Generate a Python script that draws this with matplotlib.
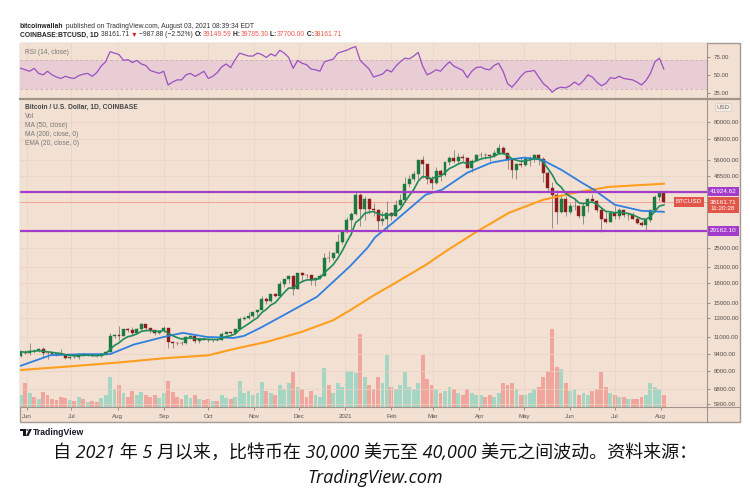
import numpy as np
import pandas as pd
import matplotlib
matplotlib.use("Agg")
import matplotlib.pyplot as plt
import matplotlib.transforms as mtransforms
from matplotlib.patches import Rectangle, Polygon, Circle
from matplotlib.lines import Line2D
from matplotlib.ticker import NullLocator

# ---- values: one candle per 3 days, USD ----
start = "2020-05-28"
first_open = 9200
close = [9580, 9450, 9670, 9660, 9780, 9470, 9430, 9390, 9300, 9290, 9010, 9140,
         9090, 9350, 9240, 9300, 9200, 9160, 9390, 9540, 11050, 11110,
         11100, 11750, 11680, 11400, 11770, 12300, 11860, 11650, 11320, 11540,
         11920, 10500, 10370, 10350, 10330, 10950, 11080, 10520, 10740, 10700,
         10620, 10680, 10670, 11300, 11430, 11320, 11760, 12990, 13030, 13270, 13800,
         14030, 15590, 15330, 16300, 15980, 17800, 18690, 19170, 17140, 19700,
         19450, 19380, 18550, 18810, 19270, 22800, 22720, 23730, 26270, 28850,
         32130, 34000, 40580, 35550, 39150, 35800, 35470, 32080, 32500, 34270,
         33530, 36930, 38870, 44800, 47170, 49150, 55900, 54090, 47030, 45240,
         50530, 48900, 54900, 57330, 55600, 57650, 57320, 52310, 55870, 58900,
         59020, 58880, 58070, 60170, 62980, 60060, 56240, 51160, 54000, 53800,
         56630, 57350, 58900, 56700, 49750, 43500, 40600, 34700, 39300, 34600,
         36700, 36850, 33580, 36700, 39100, 38350, 35500, 32500, 31600, 34500,
         33570, 35290, 33800, 33800, 32700, 31400, 30830, 32150, 35400, 40000, 41460,
         38161.71]
high = [9600, 9750, 10380, 9850, 9880, 9950, 9550, 9550, 9450, 9780, 9320, 9230,
        9300, 9370, 9470, 9330, 9330, 9200, 9420, 9650, 11400, 11250,
        12100, 11800, 11900, 12050, 11850, 12450, 12400, 11900, 11700, 11600,
        12080, 11950, 10600, 10500, 10550, 11100, 11150, 11100, 10800, 10950,
        10880, 10720, 10800, 11450, 11550, 11500, 11800, 13180, 13350, 13860, 13850,
        14050, 15950, 15900, 16350, 16480, 18400, 18800, 19400, 19500, 19850,
        19920, 19550, 19420, 18900, 19570, 23800, 24300, 23800, 28400, 29000,
        33300, 34800, 41950, 41400, 40100, 39700, 37800, 35600, 34900, 38500,
        34700, 38700, 40900, 48000, 48900, 50600, 56300, 58350, 51700, 48300,
        52650, 51700, 54900, 58000, 61700, 60100, 59500, 57900, 56600, 59400,
        60200, 59800, 58700, 61300, 64850, 63800, 60000, 57000, 54300, 57000,
        58400, 58000, 59500, 59600, 57900, 50600, 45800, 42400, 40800, 40400,
        37900, 39500, 37000, 38000, 39400, 41000, 38800, 36400, 35000, 35000,
        36600, 35900, 35100, 34600, 34600, 33200, 32000, 32850, 35400, 40550, 42300,
        39800]
low = [9100, 9400, 9300, 9450, 9550, 9050, 8900, 9300, 9200, 9250, 8950, 8960,
       9050, 8980, 9200, 9150, 9170, 9080, 9100, 9300, 9500, 10850,
       10650, 11100, 11500, 11150, 11400, 11700, 11650, 11400, 11150, 11250,
       11500, 9900, 9900, 10200, 10200, 10300, 10800, 10350, 10400, 10630,
       10430, 10500, 10520, 10650, 11250, 11200, 11250, 11750, 12800, 12900, 13100,
       13300, 14000, 14800, 15100, 15800, 15950, 17350, 18000, 16200, 17000,
       18200, 18900, 17650, 17600, 18700, 19250, 21800, 22350, 23500, 25900,
       28600, 28000, 33900, 30400, 32400, 34000, 33400, 28850, 30900, 29300,
       32300, 33400, 36600, 38050, 43800, 46200, 47000, 47600, 45000, 43000,
       45100, 46300, 48500, 53500, 54600, 54100, 55500, 52000, 50400, 55700,
       57000, 56500, 55500, 57800, 59800, 59600, 51500, 47500, 47050, 52400,
       52900, 53200, 55300, 53400, 46000, 42200, 30000, 31100, 34500, 33400,
       34100, 35500, 33000, 31000, 34700, 38100, 34800, 28800, 31300, 31600,
       32700, 32700, 33300, 32200, 32600, 31100, 30500, 29300, 31700, 34800, 38300,
       37700]
volume = [19, 38, 22, 16, 13, 24, 19, 13, 11, 16, 14, 11,
          10, 16, 13, 8, 10, 8, 14, 19, 48, 29,
          35, 22, 16, 26, 19, 24, 19, 16, 19, 14,
          22, 42, 24, 16, 13, 19, 14, 19, 13, 11,
          13, 10, 10, 19, 14, 13, 16, 42, 22, 26, 19,
          22, 40, 26, 22, 19, 35, 29, 38, 56, 32,
          29, 16, 26, 19, 16, 62, 35, 22, 38, 32,
          58, 58, 54, 117, 48, 35, 29, 48, 38, 83,
          32, 29, 35, 56, 32, 29, 38, 83, 45, 35,
          29, 22, 26, 32, 29, 22, 19, 29, 22, 19,
          19, 16, 19, 16, 22, 38, 35, 38, 29, 19,
          19, 22, 29, 32, 48, 58, 125, 64, 61, 38,
          26, 29, 19, 22, 19, 26, 29, 56, 32, 22,
          19, 16, 16, 13, 13, 13, 16, 19, 38, 32, 29,
          19]
rsi = [59, 57, 55, 59, 52, 50, 55, 50, 47, 45, 48, 46,
       45, 49, 51, 52, 48, 53, 62, 68, 82, 80,
       78, 70, 71, 67, 70, 65, 63, 56, 54, 52,
       55, 36, 40, 43, 43, 50, 52, 48, 51, 55,
       45, 48, 53, 61, 65, 60, 71, 80, 78, 76, 76,
       80, 78, 74, 79, 76, 84, 80, 74, 59, 70,
       66, 64, 58, 57, 55, 68, 70, 72, 80, 82,
       84, 87, 89, 70, 64, 58, 47, 49, 51, 57,
       54, 62, 68, 73, 72, 76, 81, 62, 50, 53,
       57, 55, 62, 68, 62, 59, 56, 46, 55, 60,
       61, 58, 57, 63, 66, 55, 38, 33, 40, 48,
       54, 55, 56, 47, 38, 33, 26, 31, 33, 32,
       35, 40, 36, 42, 50, 47, 40, 35, 38, 46,
       45, 48, 45, 44, 43, 40, 36, 42, 52, 68, 73,
       58]
ma50_dates = ["2020-05-28", "2020-06-17", "2020-07-09", "2020-07-27", "2020-08-12",
              "2020-09-04", "2020-09-14", "2020-09-30", "2020-10-18", "2020-10-25",
              "2020-11-05", "2020-11-21", "2020-12-13", "2021-01-04", "2021-01-16",
              "2021-01-21", "2021-02-02", "2021-02-24", "2021-03-07", "2021-03-24",
              "2021-04-09", "2021-04-20", "2021-05-01", "2021-05-13", "2021-05-26",
              "2021-06-09", "2021-06-17", "2021-07-01", "2021-07-19", "2021-08-03"]
ma50 = [8400, 9260, 9350, 9350, 10220, 11070, 11380, 10960, 10860, 11070,
        11920, 13440, 15880, 21000, 25000, 27500, 31460, 40730, 42680, 49940,
        54770, 56300, 57370, 56300, 51340, 45520, 42680, 37150, 35120, 34800]
ma200_dates = ["2020-05-28", "2020-07-01", "2020-08-03", "2020-09-01", "2020-10-01",
               "2020-10-18", "2020-11-10", "2020-12-03", "2020-12-24", "2021-01-04",
               "2021-01-21", "2021-02-04", "2021-02-24", "2021-03-11", "2021-03-30",
               "2021-04-21", "2021-05-14", "2021-06-05", "2021-06-27", "2021-08-03"]
ma200 = [8080, 8360, 8670, 9000, 9250, 9800, 10500, 11500, 12800, 14000,
         16200, 18100, 21300, 24500, 28900, 34500, 38900, 41600, 43800, 45100]
resist = 41924.62
support = 29162.10
last_price = 38161.71
price_ticks = [5900, 6800, 8000, 9400, 11000, 13000, 15000, 18000, 21000, 25000,
               48500, 56000, 68000, 80000]
rsi_ticks = [25, 50, 75]
month_labels = ["Jun", "Jul", "Aug", "Sep", "Oct", "Nov", "Dec", "2021",
                "Feb", "Mar", "Apr", "May", "Jun", "Jul", "Aug"]

BG = "#f2e1d3"
UP, DOWN, WICK = "#1d7a3f", "#8e1c1c", "#808080"
VUP, VDN = "#a5d5c3", "#f1a69d"
PURPLE, RED = "#a43ccb", "#e0574a"
GRID = "#ead2c2"
FONT = ["Liberation Sans", "DejaVu Sans"]
plt.rcParams["font.family"] = FONT

dates = pd.date_range(start, periods=len(close), freq="3D")
close = np.array(close, float)
opens = np.r_[first_open, close[:-1]]
high = np.maximum(np.array(high, float), np.maximum(opens, close))
low = np.minimum(np.array(low, float), np.minimum(opens, close))
up = close >= opens
ema20 = pd.Series(close).ewm(span=20 / 3).mean()   # 20-day EMA on 3-day bars
months = pd.date_range("2020-06-01", "2021-08-01", freq="MS")
xlim = (pd.Timestamp("2020-05-27 12:00"), pd.Timestamp("2021-09-01"))

fig = plt.figure(figsize=(7.5, 4.97), dpi=100)
fig.patch.set_facecolor("white")


def fx(px):
    return px / 750


def fy(py):
    return 1 - py / 497


fig.patches.append(Rectangle((fx(20), fy(422)), fx(740) - fx(20), fy(43) - fy(422),
                             transform=fig.transFigure, facecolor=BG,
                             edgecolor="#a59a92", lw=1.0, zorder=-5))
for xs, ys, lw in [([fx(707), fx(707)], [fy(43), fy(422)], 0.8),
                   ([fx(20), fx(740)], [fy(407), fy(407)], 0.8),
                   ([fx(20), fx(740)], [fy(99), fy(99)], 1.6)]:
    fig.lines.append(Line2D(xs, ys, transform=fig.transFigure, color="#9e948c", lw=lw, zorder=10))

W = fx(707) - fx(20)
rsi_ax = fig.add_axes([fx(20), fy(98), W, fy(43) - fy(98)])
vol_ax = fig.add_axes([fx(20), fy(407), W, fy(100) - fy(407)])
ax = fig.add_axes([fx(20), fy(407), W, fy(100) - fy(407)])
for a in (rsi_ax, vol_ax, ax):
    for s in a.spines.values():
        s.set_visible(False)
    a.set_xlim(*xlim)
rsi_ax.set_facecolor(BG)
vol_ax.set_facecolor(BG)
ax.set_facecolor("none")

# ---- volume ----
vol = np.array(volume, float)
vol_ax.bar(dates, vol, width=2.6, color=np.where(up, VUP, VDN), lw=0)
vol_ax.set_ylim(0, vol.max() / 0.255)
vol_ax.set_xticks([])
vol_ax.set_yticks([])

# ---- price ----
ax.set_yscale("log")
ax.set_ylim(5740, 97700)
ax.set_xticks(months)
ax.set_xticklabels(month_labels)
ax.set_yticks(price_ticks)
ax.set_yticklabels(["%.2f" % v for v in price_ticks])
ax.yaxis.set_minor_locator(NullLocator())
ax.yaxis.tick_right()
ax.tick_params(axis="both", length=2.5, width=0.6, color="#8a8079",
               labelsize=4.4, labelcolor="#55504c", pad=2.5)
ax.grid(True, color=GRID, lw=0.5)
ax.set_axisbelow(True)

ax.vlines(dates, low, high, color=WICK, lw=0.6, zorder=3)
ax.bar(dates[up], (close - opens)[up], bottom=opens[up], width=2.0,
       color=UP, edgecolor=UP, lw=0.3, zorder=4)
ax.bar(dates[~up], (close - opens)[~up], bottom=opens[~up], width=2.0,
       color=DOWN, edgecolor=DOWN, lw=0.3, zorder=4)
ax.plot(pd.to_datetime(ma200_dates), ma200, color="#ff9d1e", lw=1.5, zorder=5)
ax.plot(pd.to_datetime(ma50_dates), ma50, color="#2f7fe0", lw=1.3, zorder=5)
ax.plot(dates, ema20, color="#1f8b5b", lw=1.2, zorder=5)

ax.axhline(last_price, color="#f2a496", lw=0.7, zorder=2)
ax.axhline(resist, color=PURPLE, lw=1.6, zorder=6)
ax.axhline(support, color=PURPLE, lw=1.6, zorder=6)

yt = mtransforms.blended_transform_factory(ax.transAxes, ax.transData)
lab = dict(transform=yt, fontsize=4.6, color="white", va="center", ha="left",
           clip_on=False, zorder=12)
ax.text(1 + 3 / 687, resist, "%.2f" % resist,
        bbox=dict(boxstyle="square,pad=0.35", fc=PURPLE, ec="none"), **lab)
ax.text(1 + 3 / 687, support, "%.2f" % support,
        bbox=dict(boxstyle="square,pad=0.35", fc=PURPLE, ec="none"), **lab)
ax.text(1 + 3 / 687, 37000, "%.2f\n11:20:28" % last_price, linespacing=1.25,
        bbox=dict(boxstyle="square,pad=0.35", fc=RED, ec="none"), **lab)
lab["ha"] = "right"
ax.text(1 - 5 / 687, last_price, "BTCUSD",
        bbox=dict(boxstyle="square,pad=0.35", fc=RED, ec="none"), **lab)
ax.text(1 + 16 / 687, 91500, "USD", transform=yt, fontsize=4.4, color="#666",
        ha="center", va="center", clip_on=False, zorder=12,
        bbox=dict(boxstyle="square,pad=0.3", fc="#f6ebe2", ec="#d8ccc3", lw=0.5))

# ---- RSI ----
rsi_ax.axhspan(30, 70, color="#e8cdd5", lw=0, zorder=0)
rsi_ax.axhline(70, color="#c7a8b8", lw=0.6, ls=(0, (3, 3)))
rsi_ax.axhline(30, color="#c7a8b8", lw=0.6, ls=(0, (3, 3)))
rsi_ax.plot(dates, rsi, color="#9b4fc3", lw=0.9)
rsi_ax.set_ylim(18, 94)
rsi_ax.set_xticks(months)
rsi_ax.set_yticks(rsi_ticks)
rsi_ax.set_yticklabels(["%.2f" % v for v in rsi_ticks])
rsi_ax.yaxis.tick_right()
rsi_ax.tick_params(axis="y", length=2.5, width=0.6, color="#8a8079",
                   labelsize=4.4, labelcolor="#55504c", pad=2.5)
rsi_ax.tick_params(axis="x", length=0, labelbottom=False)
rsi_ax.grid(True, axis="x", color=GRID, lw=0.5)

# ---- texts ----
r = fig.canvas.get_renderer()


def run(x, y, pieces, size=4.9):
    for s, col, wt in pieces:
        t = fig.text(x, y, s, color=col, fontweight=wt, fontsize=size, va="center", ha="left")
        x += t.get_window_extent(renderer=r).width / fig.bbox.width


DK, PR = "#222222", "#f0584d"
run(fx(20), fy(26), [("bitcoinwallah", DK, "bold"),
                     (" published on TradingView.com, August 03, 2021 08:39:34 EDT", "#333", "normal")])
run(fx(20), fy(35), [("COINBASE:BTCUSD, 1D", DK, "bold"), (" 38161.71 ", "#333", "normal"),
                     ("\u25bc", "#e02020", "normal"), (" \u2212987.88 (\u22122.52%) ", "#333", "normal"),
                     ("O:", DK, "bold"), ("39149.59", PR, "normal"),
                     (" H:", DK, "bold"), ("39785.30", PR, "normal"),
                     (" L:", DK, "bold"), ("37700.00", PR, "normal"),
                     (" C:", DK, "bold"), ("38161.71", PR, "normal")])

fig.text(fx(25), fy(52), "RSI (14, close)", fontsize=4.8, color="#777", va="center")
fig.text(fx(25), fy(107), "Bitcoin / U.S. Dollar, 1D, COINBASE", fontsize=4.8,
         color="#444", fontweight="bold", va="center")
for i, s in enumerate(["Vol", "MA (50, close)", "MA (200, close, 0)", "EMA (20, close, 0)"]):
    fig.text(fx(25), fy(116 + 9.3 * i), s, fontsize=4.8, color="#777", va="center")

# TradingView logo
fig.patches.append(Polygon([(fx(20), fy(429)), (fx(25.5), fy(429)), (fx(25.5), fy(436)),
                            (fx(23), fy(436)), (fx(23), fy(431)), (fx(20), fy(431))],
                           closed=True, transform=fig.transFigure, fc="#131722", ec="none"))
fig.patches.append(Circle((fx(27.4), fy(430)), 1.1 / 750, transform=fig.transFigure,
                          fc="#131722", ec="none"))
fig.patches.append(Polygon([(fx(26), fy(436)), (fx(29.3), fy(429)), (fx(31.8), fy(429)),
                            (fx(28.5), fy(436))],
                           closed=True, transform=fig.transFigure, fc="#131722", ec="none"))
fig.text(fx(33), fy(432.5), "TradingView", fontsize=6.2, fontweight="bold",
         color="#131722", va="center")

cap = dict(fontsize=13, style="italic", family=["Open Sans", "Noto Sans CJK SC"],
           ha="center", va="center", color="#111111")
fig.text(0.5, fy(453), "自 2021 年 5 月以来，比特币在 30,000 美元至 40,000 美元之间波动。资料来源：", **cap)
fig.text(0.5, fy(478), "TradingView.com", **cap)

fig.savefig("out.png", dpi=100, facecolor="white")
